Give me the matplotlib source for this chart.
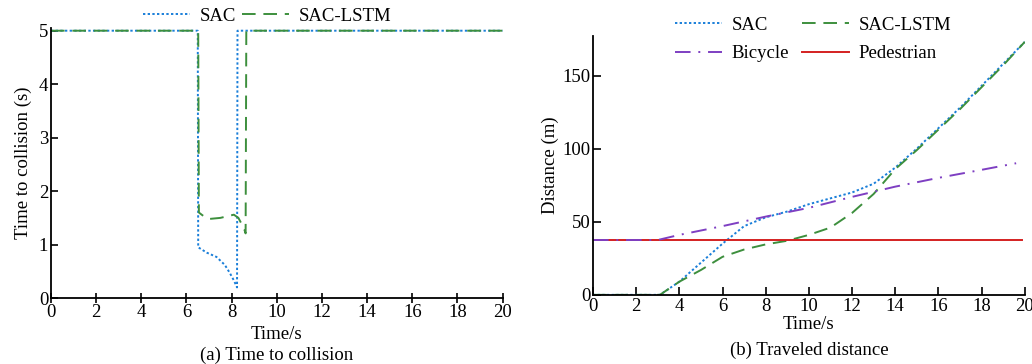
import numpy as np
import matplotlib
matplotlib.use("Agg")
import matplotlib.pyplot as plt

plt.rcParams["font.family"] = ["Liberation Serif", "DejaVu Serif"]
plt.rcParams["font.size"] = 13.5

# (a) time to collision
ttc_sac_t = [0, 6.5, 6.52, 6.9, 7.33, 7.7, 7.92, 8.1, 8.24, 8.26, 20]
ttc_sac_v = [5, 5, 0.95, 0.85, 0.77, 0.62, 0.47, 0.33, 0.2, 5, 5]
ttc_lstm_t = [0, 6.52, 6.55, 6.8, 7.0, 7.5, 8.1, 8.3, 8.55, 8.62, 8.65, 20]
ttc_lstm_v = [5, 5, 1.6, 1.52, 1.48, 1.5, 1.56, 1.5, 1.3, 1.21, 5, 5]

# (b) traveled distance
dist_t = [0, 1, 2, 3, 3.1, 4, 5, 6, 7, 8, 9, 10, 11, 12, 13, 14, 15, 16, 17, 18, 19, 20]
dist_sac = [0, 0, 0, 0, 0, 9, 22, 35, 47, 53, 57, 62, 66, 70, 76, 87, 100, 114, 128, 143, 158, 173]
dist_lstm = [0, 0, 0, 0, 0, 9, 17, 26, 31, 34.5, 37, 41, 46, 56, 69, 86, 99, 113, 127, 142, 157, 173]
bike_t = [0, 3, 4, 6, 8, 10, 12, 14, 16, 18, 19.6]
bike_d = [37.5, 37.5, 41, 47, 53.5, 59.5, 67, 74, 80, 85.5, 90]
ped_t = [0, 19.85]
ped_d = [37.5, 37.5]

C_SAC = "#1a7fd9"
C_LSTM = "#3d8f3d"
C_BIKE = "#7e3fc2"
C_PED = "#d42020"

fig = plt.figure(figsize=(10.32, 3.64), dpi=100)
ax1 = fig.add_axes([0.0494, 0.181, 0.4376, 0.742])
ax2 = fig.add_axes([0.5746, 0.19, 0.4184, 0.711])

ax1.plot(ttc_sac_t, ttc_sac_v, color=C_SAC, ls=(0, (1.2, 1.2)), lw=1.4, label="SAC")
ax1.plot(ttc_lstm_t, ttc_lstm_v, color=C_LSTM, ls=(0, (7, 4)), lw=1.4, label="SAC-LSTM")
ax1.set_xlim(0, 20)
ax1.set_ylim(0, 5.05)
ax1.set_xticks(range(0, 21, 2))
ax1.set_yticks(range(0, 6))
ax1.tick_params(axis="x", direction="inout", length=7, width=1.2, pad=1)
ax1.tick_params(axis="y", direction="in", length=5, width=1.2, pad=2)
ax1.set_xlabel("Time/s", labelpad=3)
ax1.set_ylabel("Time to collision (s)", labelpad=5)
fig.legend(*ax1.get_legend_handles_labels(), loc="upper center",
           bbox_to_anchor=(0.259, 1.01), ncol=2, frameon=False,
           handlelength=2.5, columnspacing=0.35, handletextpad=0.5, borderaxespad=0.2)
fig.text(0.2682, 0.0, "(a) Time to collision", ha="center", va="bottom")

l_sac, = ax2.plot(dist_t, dist_sac, color=C_SAC, ls=(0, (1.2, 1.2)), lw=1.4, label="SAC")
l_lstm, = ax2.plot(dist_t, dist_lstm, color=C_LSTM, ls=(0, (7, 4)), lw=1.4, label="SAC-LSTM")
l_ped, = ax2.plot(ped_t, ped_d, color=C_PED, ls="-", lw=1.4, label="Pedestrian")
l_bike, = ax2.plot(bike_t, bike_d, color=C_BIKE, ls=(0, (8, 4, 1, 4)), lw=1.4, label="Bicycle")
ax2.set_xlim(0, 20)
ax2.set_ylim(0, 177)
ax2.set_xticks(range(0, 21, 2))
ax2.set_yticks([0, 50, 100, 150])
ax2.tick_params(axis="both", direction="in", length=6, width=1.2, pad=2)
ax2.set_xlabel("Time/s", labelpad=1)
ax2.set_ylabel("Distance (m)", labelpad=2)
handles = [l_sac, l_bike, l_lstm, l_ped]
fig.legend(handles, [h.get_label() for h in handles], loc="upper center",
           bbox_to_anchor=(0.788, 0.985), ncol=2, frameon=False,
           handlelength=2.5, columnspacing=0.7, handletextpad=0.5, labelspacing=0.6,
           borderaxespad=0.2)
fig.text(0.7838, 0.015, "(b) Traveled distance", ha="center", va="bottom")

for ax in (ax1, ax2):
    ax.spines["top"].set_visible(False)
    ax.spines["right"].set_visible(False)
    for s in ("left", "bottom"):
        ax.spines[s].set_linewidth(1.3)

fig.savefig("out.png", dpi=100)
plt.close(fig)
